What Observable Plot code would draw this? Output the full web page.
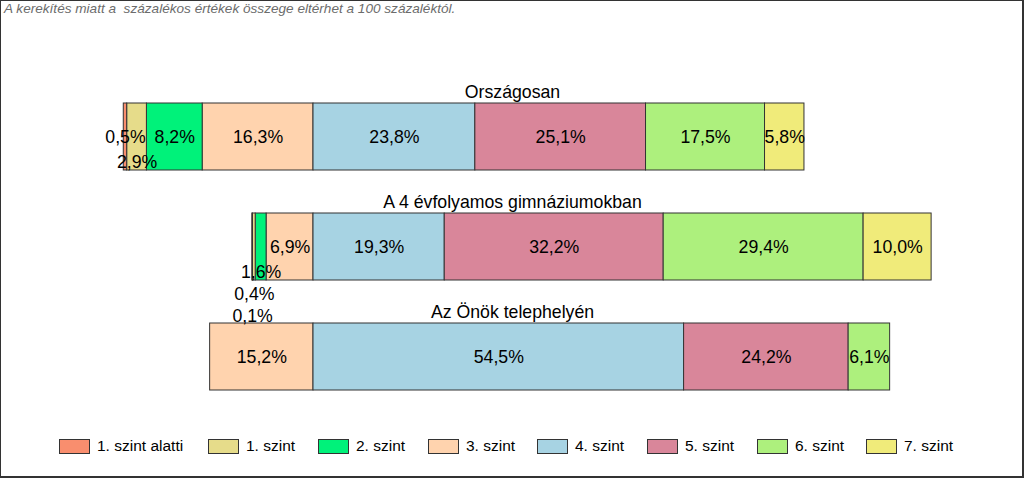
<!DOCTYPE html>
<html><head><meta charset="utf-8">
<script src="https://cdn.jsdelivr.net/npm/d3@7"></script>
<script src="https://cdn.jsdelivr.net/npm/@observablehq/plot@0.6"></script>
<style>
body{margin:0;background:#fff;}
#wrap{position:relative;width:1024px;height:478px;overflow:hidden;background:#fff;font-family:"Liberation Sans",Arial,sans-serif;}
#frame{position:absolute;left:0;top:0;width:1024px;height:478px;box-sizing:border-box;border-left:1px solid #333;border-top:1px solid #333;border-right:2px solid #333;border-bottom:2px solid #333;pointer-events:none;}
#caption{position:absolute;left:4px;top:1px;font-style:italic;font-size:13.6px;color:#6c6c6c;white-space:pre;}
#chart{position:absolute;left:0;top:0;}
#legend{position:absolute;left:0;top:437px;width:1024px;height:20px;font-size:15.5px;color:#000;}
.item{position:absolute;top:0;display:flex;align-items:center;height:18px;white-space:nowrap;}
.sw{width:29px;height:13px;border:1px solid #333;margin-right:7px;}
</style></head>
<body>
<div id="wrap">
  <div id="caption"></div>
  <div id="chart"></div>
  <div id="legend"></div>
  <div id="frame"></div>
</div>
<script>
const caption = "A kerekítés miatt a  százalékos értékek összege eltérhet a 100 százaléktól.";
const groups = ["Országosan", "A 4 évfolyamos gimnáziumokban", "Az Önök telephelyén"];
const levels = ["1. szint alatti","1. szint","2. szint","3. szint","4. szint","5. szint","6. szint","7. szint"];
const levelColors = ["#F98E6E","#E6DC8A","#00F27A","#FFD3AE","#A7D3E3","#D9869A","#ADF07D","#F0EB7A"];
const orszagosan = [0.5, 2.9, 8.2, 16.3, 23.8, 25.1, 17.5, 5.8];
const gimnazium  = [0.1, 0.4, 1.6, 6.9, 19.3, 32.2, 29.4, 10.0];
const telephely  = [0, 0, 0, 15.2, 54.5, 24.2, 6.1, 0];
const seriesValues = [orszagosan, gimnazium, telephely];

document.getElementById("caption").textContent = caption;

// build diverging stacked rows: levels 0-3 to the left of 0, 4-7 to the right
const rows = [];
groups.forEach((g, gi) => {
  const vals = seriesValues[gi];
  let acc = 0;
  for (let i = 3; i >= 0; i--) {
    const v = vals[i];
    if (v > 0) rows.push({group: g, level: levels[i], idx: i, v, x1: -(acc + v), x2: -acc});
    acc += v;
  }
  acc = 0;
  for (let i = 4; i < 8; i++) {
    const v = vals[i];
    if (v > 0) rows.push({group: g, level: levels[i], idx: i, v, x1: acc, x2: acc + v});
    acc += v;
  }
});

const fmt = v => v.toFixed(1).replace(".", ",") + "%";
const W = 1024, origin = 313, pxPer = 6.8;
const xPx = x => origin + x * pxPer;
const fs = 17.7;
const cw = ch => ch === "," ? 0.278 : ch === "%" ? 0.889 : 0.556;
const textW = s => [...s].reduce((a, c) => a + cw(c), 0) * fs;

// greedy label stacking to avoid overlaps (like the original auto-placement)
groups.forEach(g => {
  const gr = rows.filter(r => r.group === g).sort((a, b) => Math.abs(a.idx - 3.5) - Math.abs(b.idx - 3.5));
  const placed = [];
  for (const r of gr) {
    const c = xPx((r.x1 + r.x2) / 2), w = textW(fmt(r.v));
    const a = c - w / 2 - 1, b = c + w / 2 + 1;
    let L = 0;
    while (placed.some(p => p.L === L && p.a < b && a < p.b)) L++;
    r.lab = L;
    placed.push({L, a, b});
  }
});

const maxL = d3.max(rows, r => r.lab);
const labelMarks = [];
for (let L = 0; L <= maxL; L++) {
  labelMarks.push(Plot.text(rows.filter(r => r.lab === L), {
    x: r => (r.x1 + r.x2) / 2, y: "group", text: r => fmt(r.v),
    fill: "#000", fontSize: fs, dy: L === 0 ? 0 : 3 + 22 * L
  }));
}

const chart = Plot.plot({
  width: W, height: 436,
  marginLeft: 0, marginRight: 0, marginTop: 0, marginBottom: 0,
  style: {fontFamily: "'Liberation Sans', Arial, sans-serif", background: "transparent", color: "#000"},
  x: {domain: [-origin / pxPer, (W - origin) / pxPer], range: [0, W], axis: null},
  y: {domain: groups, range: [60, 433], padding: 0.39, axis: null},
  color: {domain: levels, range: levelColors},
  marks: [
    Plot.barX(rows, {x1: "x1", x2: "x2", y: "group", fill: "level", stroke: "#333", strokeWidth: 1}),
    ...labelMarks,
    Plot.text(groups, {y: d => d, text: d => d, lineAnchor: "bottom", dy: -39, fontSize: fs, fill: "#000"})
  ]
});
document.getElementById("chart").appendChild(chart);

// legend layout (left edges of the items)
const legendLeft = [59, 208, 318, 428, 537, 647, 757, 866];
const legend = document.getElementById("legend");
levels.forEach((l, i) => {
  const it = document.createElement("div"); it.className = "item"; it.style.left = legendLeft[i] + "px";
  const sw = document.createElement("div"); sw.className = "sw"; sw.style.background = levelColors[i];
  const tx = document.createElement("span"); tx.textContent = l;
  it.appendChild(sw); it.appendChild(tx); legend.appendChild(it);
});
</script>
</body></html>
